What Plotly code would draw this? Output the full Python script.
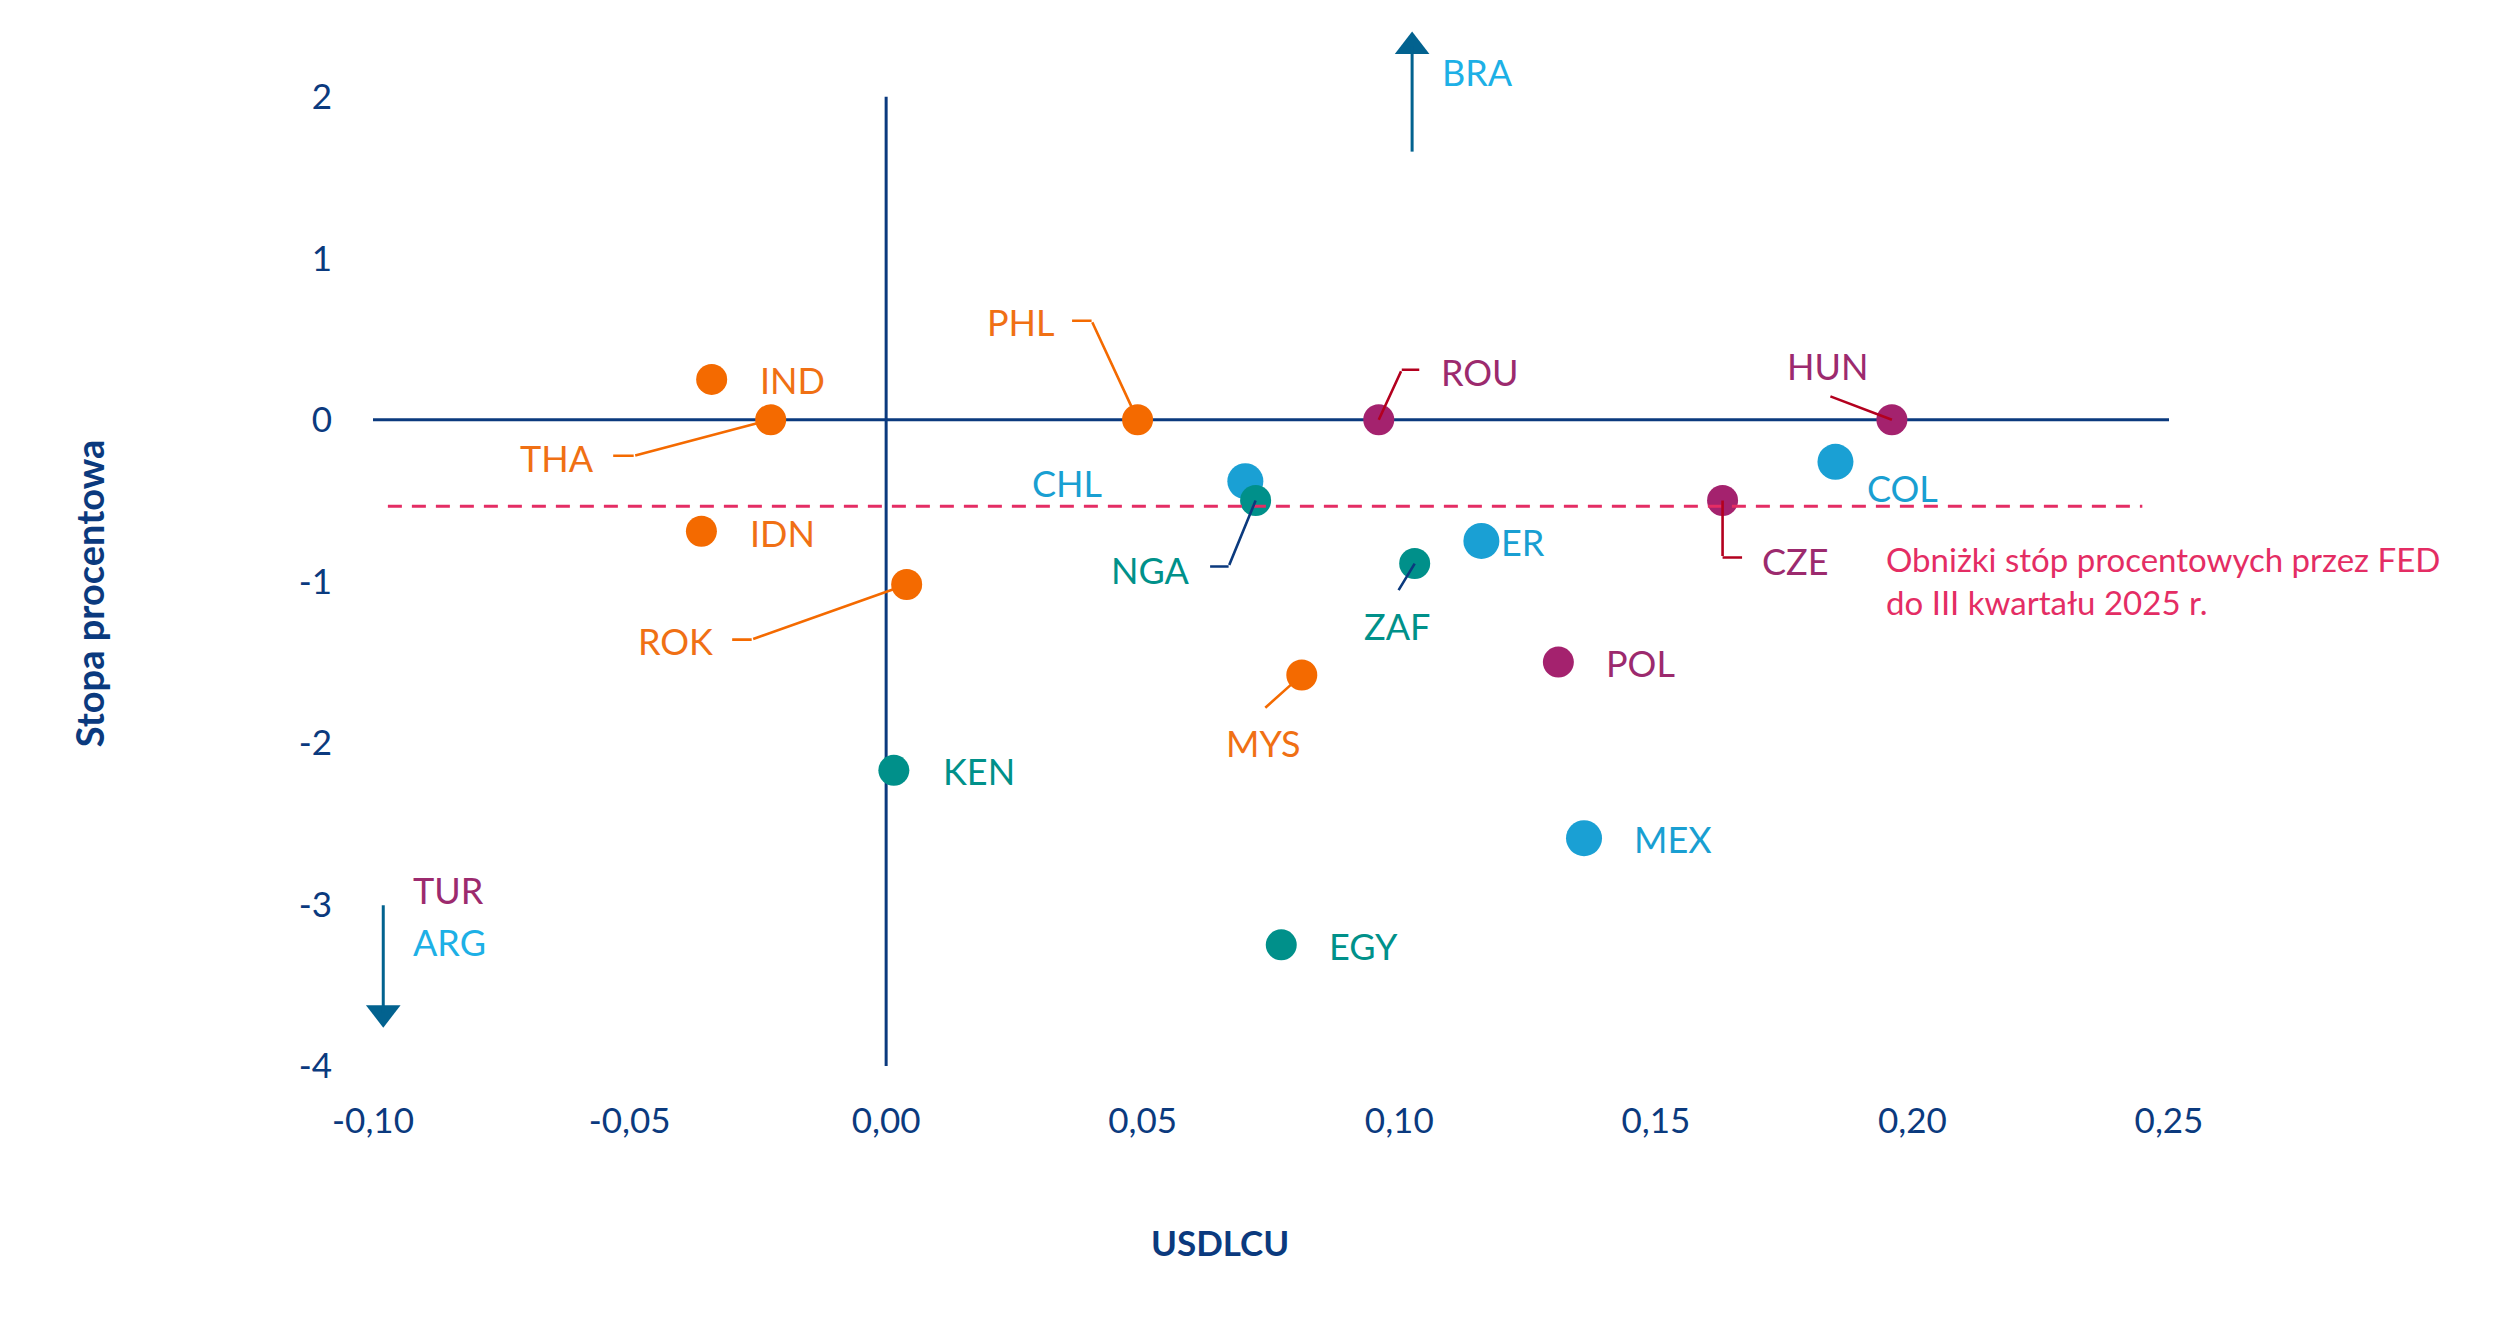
import plotly.graph_objects as go

# ---------------- data ----------------
countries = ["IND", "THA", "IDN", "ROK", "PHL", "MYS",
             "KEN", "NGA", "ZAF", "EGY",
             "ROU", "HUN", "CZE", "POL",
             "CHL", "PER", "COL", "MEX"]
labels = ["IND", "THA", "IDN", "ROK", "PHL", "MYS",
          "KEN", "NGA", "ZAF", "EGY",
          "ROU", "HUN", "CZE", "POL",
          "CHL", "ER", "COL", "MEX"]
usdlcu = [-0.034, -0.0225, -0.036, 0.004, 0.049, 0.081,
          0.0015, 0.072, 0.103, 0.077,
          0.096, 0.196, 0.163, 0.131,
          0.070, 0.116, 0.185, 0.136]
stopa = [0.25, 0.0, -0.69, -1.02, 0.0, -1.58,
         -2.17, -0.50, -0.89, -3.25,
         0.0, 0.0, -0.50, -1.50,
         -0.38, -0.75, -0.26, -2.59]
grupa = ["Azja"] * 6 + ["Afryka"] * 4 + ["EŚW"] * 4 + ["Ameryka Łacińska"] * 4
fed_cut = -0.535
x_ticks = [-0.10, -0.05, 0.00, 0.05, 0.10, 0.15, 0.20, 0.25]
x_ticktext = ["-0,10", "-0,05", "0,00", "0,05", "0,10", "0,15", "0,20", "0,25"]
y_ticks = [-4, -3, -2, -1, 0, 1, 2]
y_ticktext = ["-4", "-3", "-2", "-1", "0", "1", "2"]

# ---------------- style ----------------
FONT = "Lato"
NAVY = "#0B3A7E"
PINK = "#E42D64"
DARKRED = "#B3001E"
ARROW = "#02628F"
LIGHTBLUE = "#1DB0E6"
marker_col = {"Azja": "#F46A00", "Afryka": "#00908A", "EŚW": "#A4226E",
              "Ameryka Łacińska": "#1AA0D4"}
label_col = {"Azja": "#F07014", "Afryka": "#00918A", "EŚW": "#9C2A6E",
             "Ameryka Łacińska": "#199FD2"}
marker_size = {"Azja": 31, "Afryka": 31, "EŚW": 31, "Ameryka Łacińska": 36}
leader_col = {"Azja": "#F46A00", "Afryka": NAVY, "EŚW": DARKRED,
              "Ameryka Łacińska": "#1AA0D4"}

# label placement: (anchor, dx, dy) in px relative to marker (dy down)
label_pos = {
    "IND": ("left", 46, 1), "THA": ("right", -175, 38), "IDN": ("left", 47, 2),
    "ROK": ("right", -192, 56), "PHL": ("right", -81, -98), "MYS": ("center", -38, 68),
    "KEN": ("left", 47, 1), "NGA": ("right", -64, 69), "ZAF": ("center", -18, 62),
    "EGY": ("left", 46, 1), "ROU": ("left", 60, -48), "HUN": ("center", -64, -54),
    "CZE": ("left", 37, 60), "POL": ("left", 46, 1), "CHL": ("right", -141, 2),
    "PER": ("left", 18, 1), "COL": ("left", 30, 26), "MEX": ("left", 48, 1),
}
# leaders: (elbow dx, elbow dy, horizontal end dx or None, standoff)
leaders = {
    "THA": (-137, 36, -159, 14),
    "PHL": (-46, -99, -67, 14),
    "ROK": (-155, 55, -176, 14),
    "MYS": (-38, 34, None, 14),
    "NGA": (-27, 66, -47, 0),
    "ZAF": (-17, 28, None, 0),
    "ROU": (23, -50, 42, 0),
    "HUN": (-63, -24, None, 0),
    "CZE": (0, 57, 21, 0),
}

fig = go.Figure()

order = ["Ameryka Łacińska", "Azja", "Afryka", "EŚW"]
for g in order:
    idx = [i for i, gg in enumerate(grupa) if gg == g]
    fig.add_trace(go.Scatter(
        x=[usdlcu[i] for i in idx], y=[stopa[i] for i in idx],
        mode="markers", name=g,
        marker=dict(size=marker_size[g], color=marker_col[g], line=dict(width=0)),
        hovertext=[countries[i] for i in idx], showlegend=False, cliponaxis=False))

annotations = []
for i, c in enumerate(countries):
    g = grupa[i]
    anchor, dx, dy = label_pos[c]
    annotations.append(dict(
        x=usdlcu[i], y=stopa[i], xref="x", yref="y", text=labels[i],
        showarrow=False, xanchor=anchor, yanchor="middle",
        xshift=dx, yshift=-dy,
        font=dict(family=FONT, size=36, color=label_col[g])))
    if c in leaders:
        ex, ey, hx, so = leaders[c]
        annotations.append(dict(
            x=usdlcu[i], y=stopa[i], xref="x", yref="y", text="",
            showarrow=True, arrowhead=0, arrowwidth=2.6, ax=ex, ay=ey,
            standoff=so, arrowcolor=leader_col[g]))
        if hx is not None:
            annotations.append(dict(
                x=usdlcu[i], y=stopa[i], xref="x", yref="y", text="",
                xshift=ex, yshift=-ey,
                showarrow=True, arrowhead=0, arrowwidth=2.6, ax=hx - ex, ay=0,
                standoff=0, arrowcolor=leader_col[g]))

# off-scale indicator arrows (BRA up, TUR/ARG down)
bra_x, bra_tail, bra_tip = 0.1025, 1.66, 2.31
tur_x, tur_tail, tur_tip = -0.098, -3.005, -3.67
shapes = [
    dict(type="line", x0=-0.10, x1=0.25, y0=0, y1=0, xref="x", yref="y",
         line=dict(color=NAVY, width=3), layer="below"),
    dict(type="line", x0=0, x1=0, y0=-4, y1=2, xref="x", yref="y",
         line=dict(color=NAVY, width=3), layer="below"),
    dict(type="line", x0=-0.0971, x1=0.2448, y0=fed_cut, y1=fed_cut, xref="x", yref="y",
         line=dict(color=PINK, width=3, dash="14px,10px"), layer="above"),
    dict(type="line", x0=bra_x, x1=bra_x, y0=bra_tail, y1=bra_tip, xref="x", yref="y",
         line=dict(color=ARROW, width=3)),
    dict(type="line", x0=tur_x, x1=tur_x, y0=tur_tail, y1=tur_tip, xref="x", yref="y",
         line=dict(color=ARROW, width=3)),
]
fig.add_trace(go.Scatter(
    x=[bra_x, tur_x], y=[bra_tip, tur_tip], mode="markers",
    marker=dict(symbol=["triangle-up", "triangle-down"], size=30, color=ARROW,
                line=dict(width=0)),
    showlegend=False, hoverinfo="skip", cliponaxis=False))

annotations += [
    dict(x=bra_x, y=bra_tip, xref="x", yref="y", text="BRA", showarrow=False,
         xanchor="left", yanchor="middle", xshift=28, yshift=-25,
         font=dict(family=FONT, size=36, color=LIGHTBLUE)),
    dict(x=tur_x, y=tur_tail, xref="x", yref="y", text="TUR", showarrow=False,
         xanchor="left", yanchor="middle", xshift=28, yshift=15,
         font=dict(family=FONT, size=36, color="#9C2A6E")),
    dict(x=tur_x, y=tur_tail, xref="x", yref="y", text="ARG", showarrow=False,
         xanchor="left", yanchor="middle", xshift=28, yshift=-37,
         font=dict(family=FONT, size=36, color=LIGHTBLUE)),
    dict(x=0.8413, y=0.4664, xref="paper", yref="paper", align="left",
         text="Obniżki stóp procentowych przez FED<br>do III kwartału 2025 r.",
         showarrow=False, xanchor="left", yanchor="middle",
         font=dict(family=FONT, size=33, color=PINK)),
    dict(x=-0.158, y=0.453, xref="paper", yref="paper", text="<b>Stopa procentowa</b>",
         textangle=-90, showarrow=False, xanchor="center", yanchor="middle",
         font=dict(family=FONT, size=38, color=NAVY)),
    dict(x=0.4716, y=-0.169, xref="paper", yref="paper", text="<b>USDLCU</b>",
         showarrow=False, xanchor="center", yanchor="middle",
         font=dict(family=FONT, size=35, color=NAVY)),
]

fig.update_layout(
    width=2513, height=1329,
    margin=dict(l=373, r=344, t=24, b=263),
    paper_bgcolor="white", plot_bgcolor="white",
    shapes=shapes, annotations=annotations, showlegend=False,
    xaxis=dict(range=[-0.10, 0.25], tickvals=x_ticks, ticktext=x_ticktext,
               showgrid=False, zeroline=False, showline=False, ticks="",
               ticklabelstandoff=31,
               tickfont=dict(family=FONT, size=35, color=NAVY)),
    yaxis=dict(range=[-4, 2.45], tickvals=y_ticks, ticktext=y_ticktext,
               showgrid=False, zeroline=False,
               showline=False, ticks="", ticklabelstandoff=40,
               tickfont=dict(family=FONT, size=35, color=NAVY)),
)

fig.write_html("out.html")
